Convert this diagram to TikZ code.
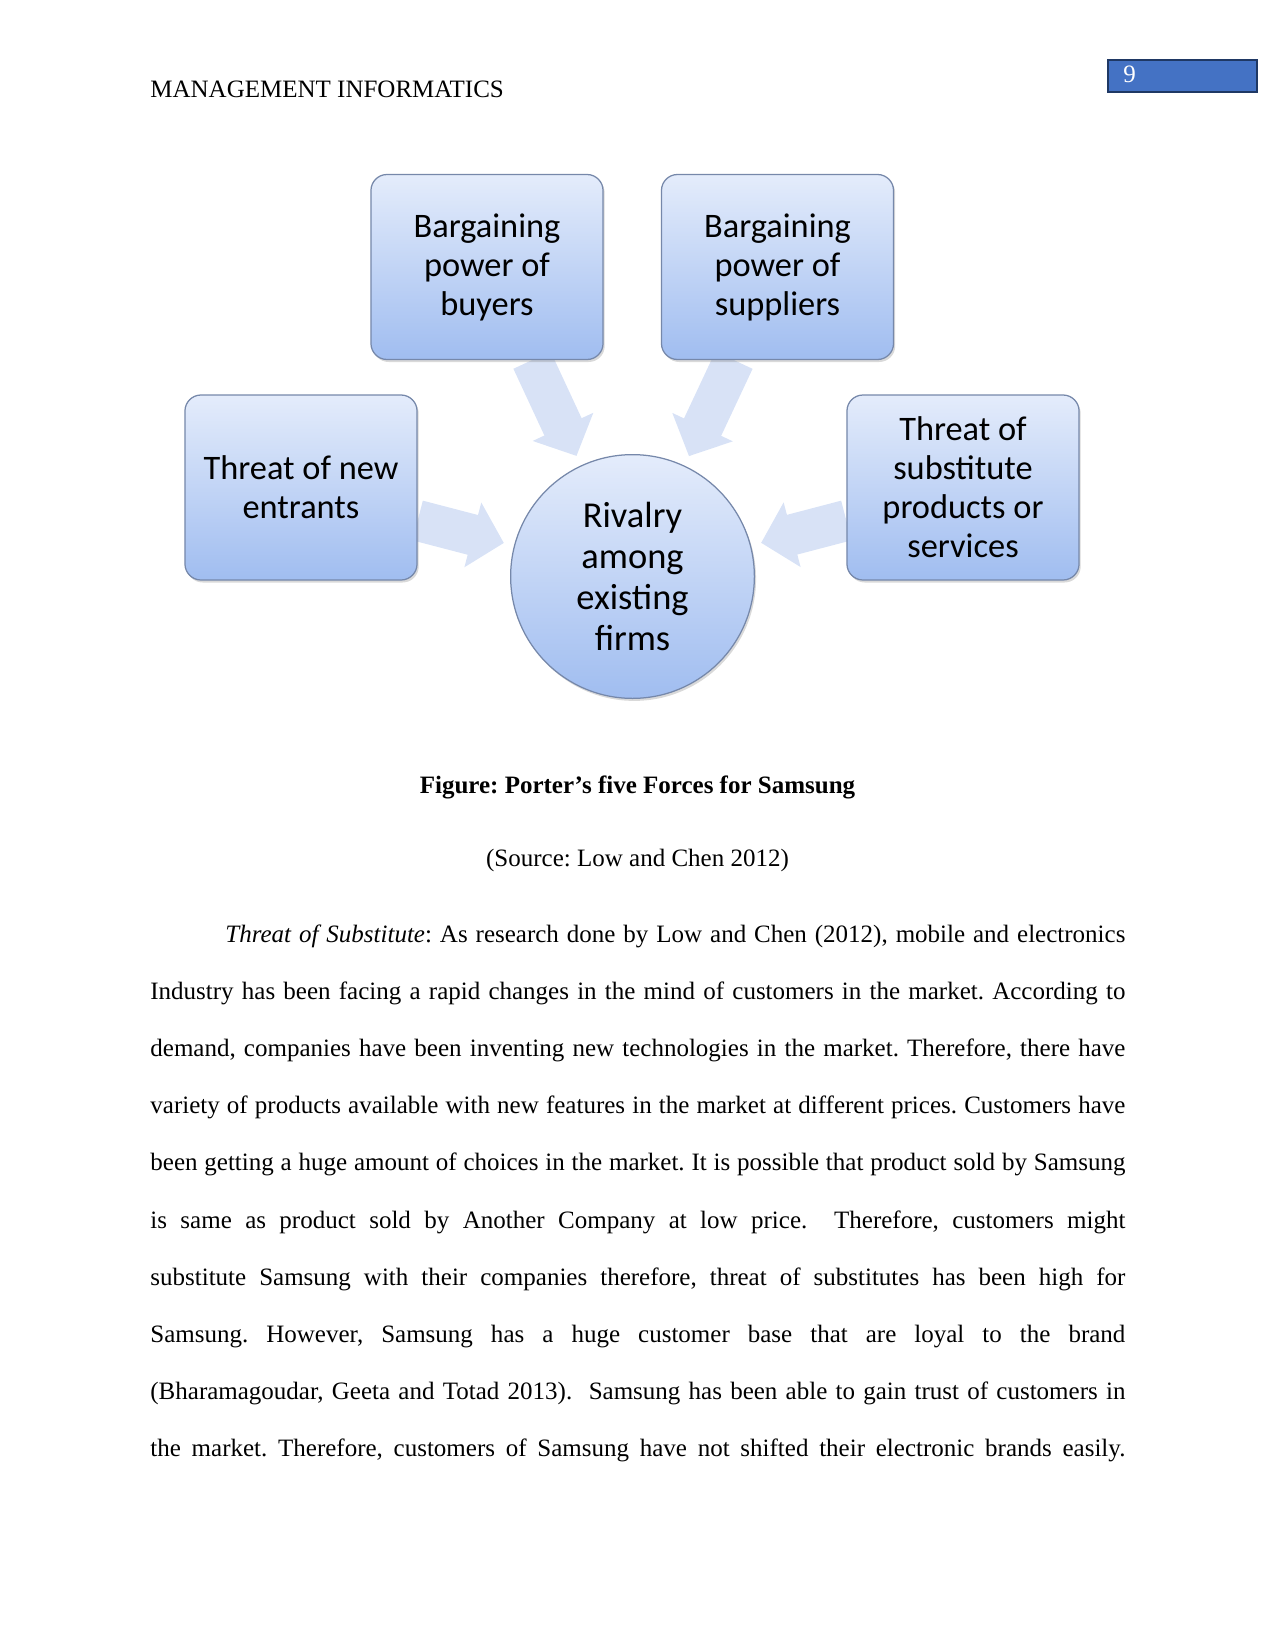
\documentclass[tikz,border=0pt]{standalone}
\usepackage{fontspec}
\setmainfont{Liberation Serif}
\newfontfamily\smartfont{Carlito}
\usetikzlibrary{arrows.meta,calc,shadows,backgrounds}
\frenchspacing
\definecolor{boxtop}{RGB}{228,236,251}
\definecolor{boxbottom}{RGB}{160,189,240}
\definecolor{boxline}{RGB}{118,136,170}
\definecolor{arrowfill}{RGB}{216,226,246}
\definecolor{pagefill}{RGB}{68,114,196}
\definecolor{pageline}{RGB}{31,56,100}
\newcommand\bodyline[1]{\hbox to 468pt{\spaceskip=3pt plus 6pt minus 1.4pt\xspaceskip=\spaceskip #1}}
\tikzset{
  forcebox/.style={draw=boxline, line width=0.6pt, rounded corners=7.7pt,
    top color=boxtop, bottom color=boxbottom,
    drop shadow={shadow xshift=0.8pt, shadow yshift=-1.2pt, opacity=0.3},
    minimum width=111.4pt, minimum height=88.8pt, inner sep=0pt, align=center,
    font=\smartfont\fontsize{16.5}{18.7}\selectfont},
  rivalrycircle/.style={circle, draw=boxline, line width=0.6pt,
    top color=boxtop, bottom color=boxbottom,
    drop shadow={shadow xshift=0.8pt, shadow yshift=-1.2pt, opacity=0.3},
    minimum size=117pt, inner sep=0pt, align=center,
    font=\smartfont\fontsize{17.5}{19.7}\selectfont},
  force/.style={draw=arrowfill, line width=19.7pt,
    -{Triangle[width=31.2pt,length=15.4pt]}, shorten >=63.8pt},
}
\begin{document}
\begin{tikzpicture}[x=0.48pt,y=-0.48pt,font=\fontsize{12pt}{13.8pt}\selectfont\frenchspacing]
\useasboundingbox (0,0) rectangle (1275,1651);
% running head
\node[anchor=base west, inner sep=0pt] (header) at (150,98) {MANAGEMENT INFORMATICS};
\node[anchor=north west, draw=pageline, fill=pagefill, line width=1pt,
  minimum width=71.5pt, minimum height=15.4pt, inner sep=0pt] (pagebox) at (1107,59) {};
\node[anchor=base west, inner sep=0pt, text=white] (pagenum) at (1123,83) {9};
% five forces
\node[forcebox] (buyers) at (487,267) {Bargaining\\power of\\buyers};
\node[forcebox] (suppliers) at (777.5,267) {Bargaining\\power of\\suppliers};
\node[forcebox] (entrants) at (301,487.5) {Threat of new\\entrants};
\node[forcebox] (substitutes) at (963,487.5) {Threat of\\substitute\\products or\\services};
\node[rivalrycircle] (rivalry) at (632.5,576.5) {Rivalry\\among\\existing\\firms};
\begin{scope}[on background layer]
\draw[force] ($(buyers.south)+(45,0)$) -- (rivalry.center);
\draw[force] ($(suppliers.south)+(-43.5,0)$) -- (rivalry.center);
\draw[force] ($(entrants.east)+(0,33)$) -- (rivalry.center);
\draw[force] ($(substitutes.west)+(0,33)$) -- (rivalry.center);
\end{scope}
% caption
\node[anchor=base, inner sep=0pt, font=\fontsize{12pt}{13.8pt}\selectfont\bfseries\frenchspacing] (caption) at (637.5,793) {Figure: Porter’s five Forces for Samsung};
\node[anchor=base, inner sep=0pt] (source) at (637.5,866) {(Source: Low and Chen 2012)};
% body text
\node[anchor=base west, inner sep=0pt, text width=468pt,
  font=\fontsize{12pt}{27.46pt}\selectfont] (para) at (150,942) {%
\bodyline{\hskip36pt\textit{Threat of Substitute}: As research done by Low and Chen (2012), mobile and electronics}\newline
\bodyline{Industry has been facing a rapid changes in the mind of customers in the market. According to}\newline
\bodyline{demand, companies have been inventing new technologies in the market. Therefore, there have}\newline
\bodyline{variety of products available with new features in the market at different prices. Customers have}\newline
\bodyline{been getting a huge amount of choices in the market. It is possible that product sold by Samsung}\newline
\bodyline{is same as product sold by Another Company at low price.\ \ Therefore, customers might}\newline
\bodyline{substitute Samsung with their companies therefore, threat of substitutes has been high for}\newline
\bodyline{Samsung. However, Samsung has a huge customer base that are loyal to the brand}\newline
\bodyline{(Bharamagoudar, Geeta and Totad 2013).\ \ Samsung has been able to gain trust of customers in}\newline
\bodyline{the market. Therefore, customers of Samsung have not shifted their electronic brands easily.}%
};
\end{tikzpicture}
\end{document}
